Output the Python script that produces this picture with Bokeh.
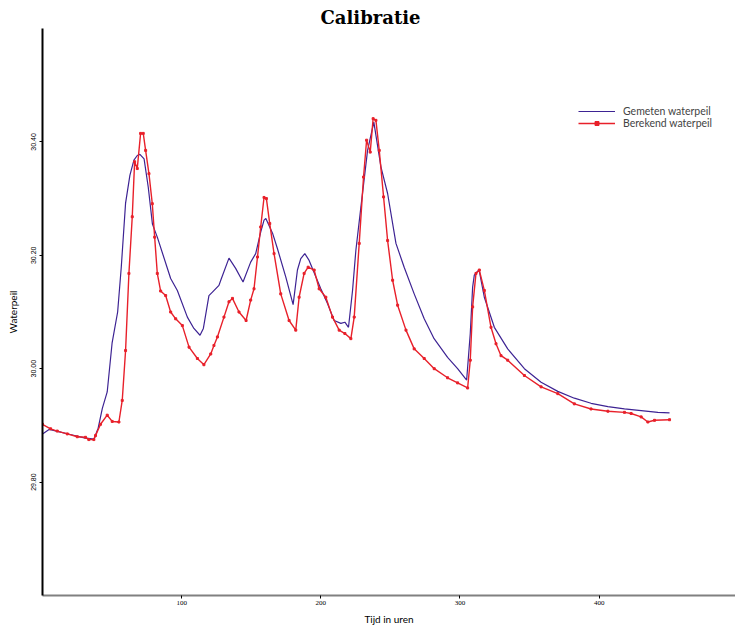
from bokeh.plotting import figure
from bokeh.models import Range1d, FixedTicker, Title
from bokeh.embed import file_html
from bokeh.resources import INLINE

# Gemeten waterpeil (measured)
gem_t = [0, 5, 10, 20, 30, 37, 40, 43, 46.5, 50, 54, 56.6, 59.7, 62.8, 65.7, 68.1, 70, 73, 76, 79,
         82.5, 92.1, 96.9, 104.1, 108.8, 113.2, 115.6, 119.6, 122.1, 126.8, 128.1, 134.0, 138.8, 144.1,
         149.6, 153.2, 156.8, 159.2, 160.5, 165.3, 168.8, 174.8, 180.1, 183.2, 185.6, 188.5, 191.6,
         196.4, 200.0, 204.8, 209.6, 214.4, 217.3, 219.9, 222.8, 225.2, 228.8, 233.6, 238.1, 243.2,
         248.0, 254.0, 259.9, 267.1, 274.3, 281.4, 291.1, 298.3, 304.8, 307.4, 309.1, 310.3, 312.7,
         313.9, 317.5, 324.7, 334.3, 346.3, 358.3, 370.3, 382.2, 394.2, 406.3, 418.2, 430.2, 442.2, 450.6]
gem_h = [29.885, 29.893, 29.890, 29.884, 29.878, 29.876, 29.895, 29.930, 29.959, 30.045, 30.100, 30.179,
         30.292, 30.341, 30.368, 30.376, 30.378, 30.370, 30.320, 30.255,
         30.232, 30.159, 30.138, 30.091, 30.071, 30.059, 30.071, 30.129, 30.135, 30.147, 30.156, 30.195,
         30.177, 30.153, 30.188, 30.203, 30.241, 30.262, 30.265, 30.239, 30.212, 30.162, 30.113, 30.174,
         30.194, 30.203, 30.191, 30.162, 30.141, 30.115, 30.085, 30.080, 30.082, 30.073, 30.138, 30.209,
         30.285, 30.385, 30.435, 30.356, 30.309, 30.221, 30.179, 30.132, 30.088, 30.053, 30.020, 30.000,
         29.980, 30.062, 30.144, 30.165, 30.172, 30.172, 30.126, 30.073, 30.035, 30.000, 29.976, 29.960,
         29.948, 29.939, 29.933, 29.929, 29.926, 29.923, 29.922]

# Berekend waterpeil (computed)
ber_t = [0, 5.8, 10.6, 17.8, 25.0, 30.9, 33.3, 36.9, 38.1, 41.7, 46.5, 50.1, 54.9, 57.3, 59.7, 62.1,
         64.5, 66.2, 68.1, 70.5, 72.4, 74.1, 76.5, 78.9, 80.6, 82.5, 84.9, 88.5, 92.1, 95.7, 100.5,
         105.3, 111.3, 116.0, 120.9, 123.2, 125.7, 130.4, 134.0, 136.5, 141.2, 146.3, 149.6, 152.0,
         154.5, 156.8, 159.2, 160.9, 163.3, 166.4, 171.2, 177.2, 182.0, 184.4, 188.0, 190.9, 195.2,
         198.8, 203.6, 208.4, 213.2, 217.3, 221.6, 224.0, 227.6, 230.7, 232.9, 235.5, 237.6, 239.6,
         242.0, 245.1, 248.0, 251.6, 255.2, 261.2, 267.1, 274.3, 281.5, 291.1, 298.3, 305.5, 307.4,
         309.1, 311.5, 313.9, 317.5, 322.3, 325.9, 329.5, 334.3, 346.3, 358.3, 370.3, 382.2, 394.2,
         406.3, 418.2, 423.0, 430.2, 435.0, 439.8, 450.6]
ber_h = [29.902, 29.894, 29.890, 29.885, 29.880, 29.879, 29.875, 29.875, 29.882, 29.902, 29.918, 29.907,
         29.906, 29.944, 30.032, 30.168, 30.268, 30.365, 30.353, 30.415, 30.415, 30.385, 30.344, 30.291,
         30.232, 30.168, 30.137, 30.129, 30.100, 30.088, 30.076, 30.038, 30.018, 30.007, 30.026, 30.041,
         30.056, 30.091, 30.118, 30.124, 30.100, 30.085, 30.121, 30.141, 30.197, 30.250, 30.302, 30.300,
         30.256, 30.203, 30.132, 30.085, 30.068, 30.126, 30.168, 30.179, 30.174, 30.141, 30.126, 30.091,
         30.068, 30.062, 30.053, 30.091, 30.221, 30.338, 30.403, 30.382, 30.441, 30.438, 30.385, 30.303,
         30.226, 30.156, 30.112, 30.068, 30.035, 30.018, 30.000, 29.984, 29.975, 29.966, 30.015, 30.109,
         30.168, 30.174, 30.138, 30.073, 30.044, 30.023, 30.015, 29.988, 29.968, 29.956, 29.938, 29.929,
         29.925, 29.923, 29.921, 29.915, 29.906, 29.909, 29.910]

x_ticks = [100, 200, 300, 400]
y_ticks = [29.8, 30.0, 30.2, 30.4]
y_tick_labels = {29.8: "29.80", 30.0: "30.00", 30.2: "30.20", 30.4: "30.40"}

BLUE = "#3d2393"
RED = "#e8202a"

p = figure(width=735, height=627, output_backend="svg", toolbar_location=None,
           x_range=Range1d(0, 498), y_range=Range1d(29.60, 30.60),
           min_border_left=42, min_border_right=0, min_border_top=28, min_border_bottom=32)
p.outline_line_color = None
p.xgrid.visible = False
p.ygrid.visible = False
p.background_fill_color = "white"

p.title = Title(text="Calibratie", align="left", offset=278, standoff=1,
                text_font="DejaVu Serif", text_font_style="bold", text_font_size="18px",
                text_color="black")

p.line(gem_t, gem_h, color=BLUE, line_width=1.2, legend_label="Gemeten waterpeil")
p.line(ber_t, ber_h, color=RED, line_width=1.4, legend_label="Berekend waterpeil")
p.scatter(ber_t, ber_h, marker="square", size=2, color=RED, legend_label="Berekend waterpeil")

xa = p.xaxis[0]
xa.ticker = FixedTicker(ticks=x_ticks)
xa.axis_line_color = "#808080"
xa.axis_line_width = 2
xa.major_tick_out = 3
xa.major_tick_in = 0
xa.minor_tick_out = 0
xa.minor_tick_in = 0
xa.major_tick_line_color = "black"
xa.major_label_text_font = "Liberation Sans Narrow"
xa.major_label_text_font_size = "7px"
xa.major_label_text_color = "black"
xa.major_label_standoff = 2
xa.axis_label = "Tijd in uren"
xa.axis_label_text_font = "Lato"
xa.axis_label_text_font_style = "normal"
xa.axis_label_text_font_size = "10px"
xa.axis_label_text_color = "black"
xa.axis_label_standoff = 5

ya = p.yaxis[0]
ya.ticker = FixedTicker(ticks=y_ticks)
ya.axis_line_color = "black"
ya.axis_line_width = 2
ya.major_tick_out = 3
ya.major_tick_in = 0
ya.minor_tick_out = 0
ya.minor_tick_in = 0
ya.major_label_orientation = "vertical"
ya.major_label_overrides = y_tick_labels
ya.major_label_text_font = "Liberation Sans"
ya.major_label_text_font_size = "7px"
ya.major_label_text_color = "black"
ya.major_label_standoff = 3
ya.axis_label = "Waterpeil"
ya.axis_label_text_font = "Lato"
ya.axis_label_text_font_style = "normal"
ya.axis_label_text_font_size = "10px"
ya.axis_label_text_color = "black"
ya.axis_label_standoff = 10

lg = p.legend[0]
lg.location = (536, 466)
lg.background_fill_alpha = 0
lg.border_line_alpha = 0
lg.label_text_font = "Lato"
lg.label_text_font_size = "10.5px"
lg.glyph_width = 37
lg.glyph_height = 10
lg.label_height = 10
lg.spacing = 0
lg.padding = 0
lg.margin = 0
lg.label_standoff = 8

open("out.html", "w").write(file_html(p, INLINE))
